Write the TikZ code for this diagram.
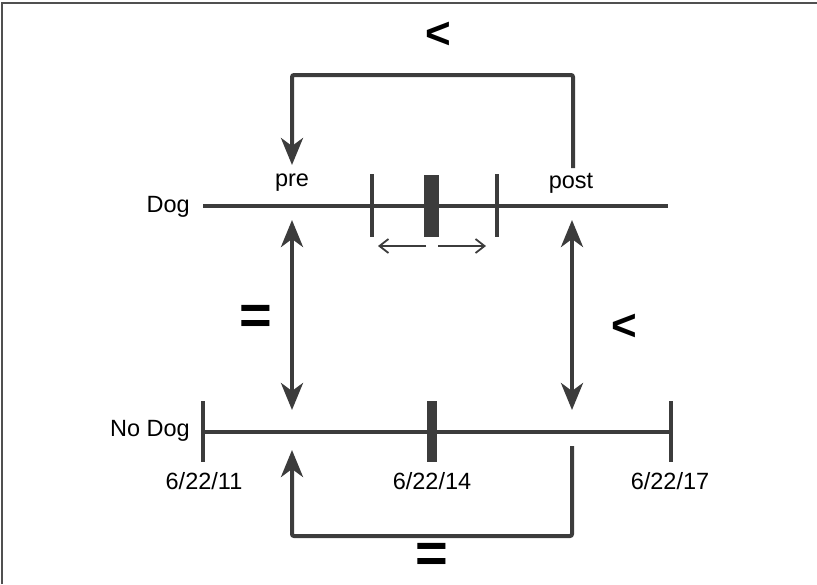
\documentclass[tikz,border=0pt]{standalone}
\usepackage{fontspec}
\setmainfont{Liberation Sans}
\usetikzlibrary{arrows.meta}
\definecolor{ln}{HTML}{3C3C3C}
\definecolor{frame}{HTML}{505050}
\begin{document}
\begin{tikzpicture}[x=1pt,y=-1pt,
  lbl/.style={font=\fontsize{23.5}{27}\selectfont, inner sep=0pt, text=black},
  rel/.style={font=\bfseries\fontsize{44}{50}\selectfont, inner sep=0pt, text=black},
  eqs/.style={font=\bfseries\fontsize{56}{60}\selectfont, inner sep=0pt, text=black},
  tl/.style={draw=ln, line width=4pt},
  bar/.style={fill=ln, inner sep=0pt},
  bigtip/.tip={Stealth[length=27pt,width=22pt,inset=8pt]},
  big/.style={draw=ln, line width=4pt, rounded corners=2pt, -bigtip},
  bigboth/.style={draw=ln, line width=4pt, bigtip-bigtip},
  small/.style={draw=ln, line width=1.8pt, -{Straight Barb[length=9pt,width=14pt]}},
  ]
\useasboundingbox (0,0) rectangle (817,584);
\draw[frame, line width=2pt] (2,584) -- (2,3) -- (817,3);

% Dog timeline
\coordinate (d0) at (203,206);
\coordinate (d1) at (668,206);
\draw[tl] (d0) -- (d1);
\node[lbl, anchor=east] (doglbl) at (190,207) {Dog};
\node[lbl] (pre) at (292,183) {pre};
\node[lbl] (post) at (571,183) {post};
\coordinate (dt1a) at (372,174); \coordinate (dt1b) at (372,237);
\coordinate (dt2a) at (497,174); \coordinate (dt2b) at (497,237);
\draw[tl] (dt1a) -- (dt1b);
\draw[tl] (dt2a) -- (dt2b);
\node[bar, minimum width=15pt, minimum height=62pt] (dbar) at (431.5,206) {};
\coordinate (sa1) at (426,246); \coordinate (sa1e) at (378,246);
\coordinate (sa2) at (438,246); \coordinate (sa2e) at (486,246);
\draw[small] (sa1) -- (sa1e);
\draw[small] (sa2) -- (sa2e);

% No Dog timeline
\coordinate (n0) at (203,432);
\coordinate (n1) at (671,432);
\draw[tl] (n0) -- (n1);
\node[lbl, anchor=east] (nodoglbl) at (190,431) {No Dog};
\draw[tl] (203,401) -- (203,462);
\draw[tl] (671,401) -- (671,462);
\node[bar, minimum width=10pt, minimum height=61pt] (nbar) at (432,431.5) {};
\node[lbl] (date1) at (204,481) {6/22/11};
\node[lbl] (date2) at (432,481) {6/22/14};
\node[lbl] (date3) at (670,481) {6/22/17};

% top bracket
\coordinate (tr) at (573,168);
\coordinate (tl) at (292,165);
\draw[big] (tr) -- (573,75) -- (292,75) -- (tl);
\node[rel] (lt1) at (438,35) {<};

% verticals
\coordinate (lv1) at (292,220); \coordinate (lv2) at (292,410);
\coordinate (rv1) at (572,220); \coordinate (rv2) at (572,410);
\draw[bigboth] (lv1) -- (lv2);
\draw[bigboth] (rv1) -- (rv2);
\node[eqs] (eq1) at (256,320) {=};
\node[rel] (lt2) at (624,327) {<};

% bottom bracket
\coordinate (br) at (572,446);
\coordinate (bl) at (292,450);
\draw[big] (br) -- (572,536) -- (292,536) -- (bl);
\node[eqs] (eq2) at (432,558) {=};
\end{tikzpicture}
\end{document}
